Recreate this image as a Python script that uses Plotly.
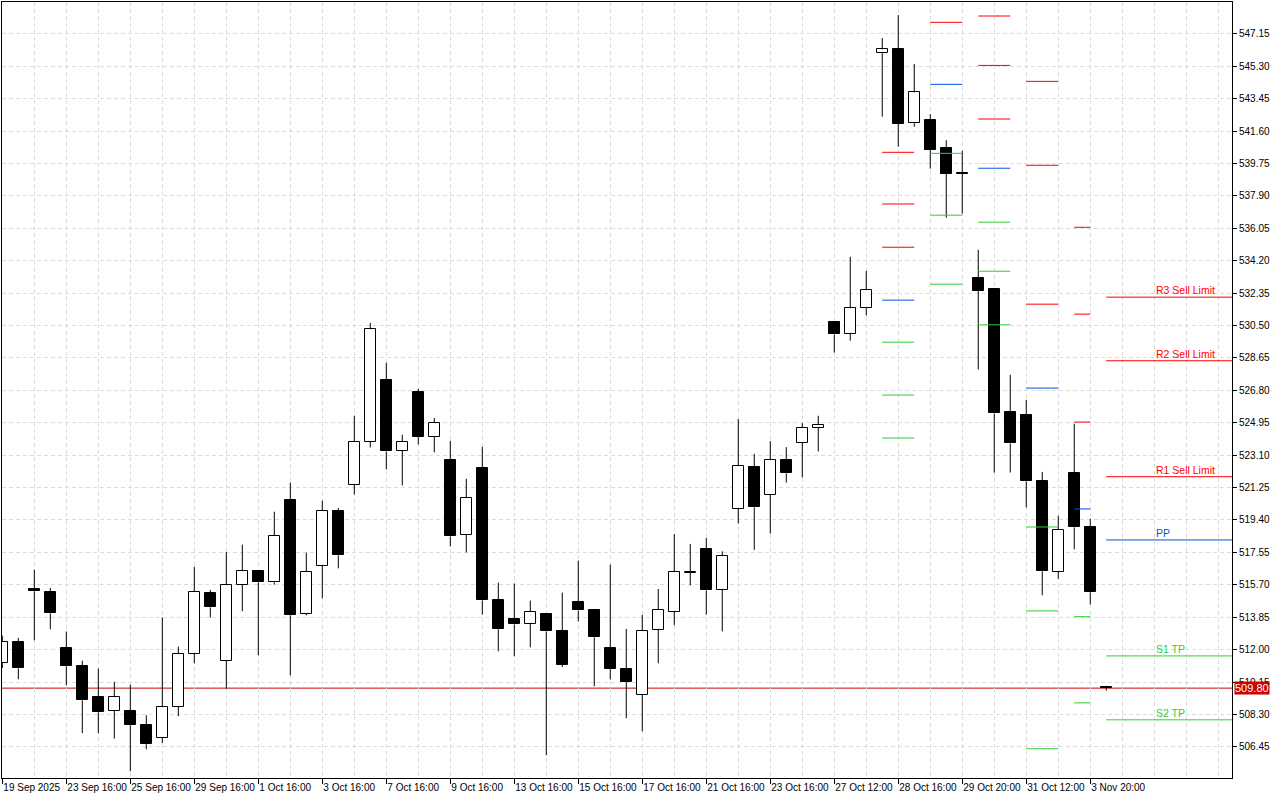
import plotly.graph_objects as go

# ---- candle data (bar index, OHLC) ----
opens = [511.24, 512.44, 515.46, 515.29, 512.10, 511.07, 509.30, 508.50, 508.50, 507.70,
         506.96, 508.73, 511.76, 515.25, 511.36, 515.69, 516.49, 515.84, 520.56, 514.04,
         516.78, 519.93, 521.40, 523.85, 527.40, 523.34, 526.72, 524.13, 522.84, 518.54,
         522.38, 514.84, 513.75, 513.47, 514.04, 513.08, 514.74, 514.28, 512.11, 510.90,
         509.42, 513.12, 514.15, 516.40, 517.74, 515.41, 520.03, 522.42, 520.83, 522.82,
         523.79, 524.65, 530.71, 530.01, 531.49, 546.04, 546.28, 542.05, 542.22, 540.62,
         539.21, 533.20, 532.59, 525.58, 525.41, 521.64, 516.43, 522.10, 519.02, 509.85]
highs = [512.80, 512.67, 516.56, 515.52, 513.03, 511.37, 510.92, 510.16, 510.00, 508.25,
         513.83, 512.17, 516.73, 515.41, 517.57, 517.99, 516.52, 519.87, 521.53, 517.53,
         520.50, 520.08, 525.35, 530.65, 528.37, 524.27, 526.89, 525.22, 523.92, 521.75,
         523.58, 515.82, 515.77, 514.80, 514.06, 515.25, 517.08, 514.32, 516.85, 513.18,
         513.98, 515.46, 518.60, 518.03, 518.37, 517.61, 525.16, 523.18, 523.90, 523.56,
         524.93, 525.35, 530.73, 534.42, 533.62, 546.91, 548.22, 545.43, 542.56, 541.08,
         540.47, 534.82, 532.62, 527.69, 526.26, 522.14, 519.64, 524.89, 519.47, 509.87]
lows = [510.95, 510.31, 512.53, 513.16, 509.96, 507.23, 507.23, 506.92, 505.06, 506.31,
        506.66, 508.20, 511.22, 513.83, 509.76, 514.19, 511.68, 515.71, 510.53, 513.96,
        514.93, 516.64, 520.86, 523.54, 522.29, 521.37, 523.71, 523.26, 517.89, 517.55,
        514.00, 511.90, 511.62, 512.13, 505.97, 511.01, 513.61, 509.91, 510.29, 508.08,
        507.34, 511.22, 513.39, 515.67, 514.00, 513.04, 519.20, 517.70, 518.63, 521.54,
        521.83, 523.31, 528.96, 529.64, 531.07, 542.42, 540.71, 541.85, 539.46, 536.66,
        536.89, 527.99, 522.11, 522.11, 520.12, 515.10, 516.05, 517.72, 514.58, 509.66]
closes = [512.44, 510.93, 515.33, 514.07, 511.05, 509.11, 508.42, 509.30, 507.68, 506.60,
          508.73, 511.76, 515.29, 514.41, 515.69, 516.49, 515.84, 518.49, 513.96, 516.43,
          519.93, 517.38, 523.85, 530.29, 523.31, 523.85, 524.13, 524.93, 518.46, 520.65,
          514.81, 513.16, 513.44, 514.15, 513.04, 511.14, 514.24, 512.70, 510.88, 510.14,
          513.07, 514.27, 516.43, 516.45, 515.38, 517.35, 522.48, 520.12, 522.82, 522.06,
          524.65, 524.82, 529.99, 531.49, 532.52, 546.27, 542.02, 543.81, 540.54, 539.17,
          539.17, 532.50, 525.48, 523.77, 521.60, 516.47, 518.83, 518.98, 515.27, 509.80]
bars = list(range(len(opens)))

# ---- x-axis labels (every 4th bar) ----
tick_bars = [0, 4, 8, 12, 16, 20, 24, 28, 32, 36, 40, 44, 48, 52, 56, 60, 64, 68]
tick_labels = ["19 Sep 2025", "23 Sep 16:00", "25 Sep 16:00", "29 Sep 16:00", "1 Oct 16:00",
               "3 Oct 16:00", "7 Oct 16:00", "9 Oct 16:00", "13 Oct 16:00", "15 Oct 16:00",
               "17 Oct 16:00", "21 Oct 16:00", "23 Oct 16:00", "27 Oct 12:00", "28 Oct 16:00",
               "29 Oct 20:00", "31 Oct 12:00", "3 Nov 20:00"]

# ---- y-axis ticks ----
price_ticks = [506.45, 508.30, 510.15, 512.00, 513.85, 515.70, 517.55, 519.40, 521.25, 523.10,
               524.95, 526.80, 528.65, 530.50, 532.35, 534.20, 536.05, 537.90, 539.75, 541.60,
               543.45, 545.30, 547.15]

# ---- daily pivot levels (segment start bar, end bar) ----
seg_start = [55, 58, 61, 64, 67]
seg_end = [57, 60, 63, 66, 68]
piv_R3 = [540.39, 555.29, 548.17, 544.44, 536.11]
piv_R2 = [537.44, 551.75, 545.35, 539.65, 531.15]
piv_R1 = [534.97, 547.81, 542.29, 531.72, 524.99]
piv_PP = [531.95, 544.27, 539.48, 526.93, 520.03]
piv_S1 = [529.55, 540.33, 536.40, 519.00, 513.88]
piv_S2 = [526.53, 536.80, 533.60, 514.21, 508.96]
piv_S3 = [524.08, 532.86, 530.54, 506.34, 502.77]

# ---- current levels ----
cur_names = ["R3 Sell Limit", "R2 Sell Limit", "R1 Sell Limit", "PP", "S1 TP", "S2 TP"]
cur_levels = [532.12, 528.49, 521.87, 518.26, 511.64, 507.99]
cur_start = 69
cur_end = 80
label_bar = 72
last_price = 509.80

RED = "#FF0000"
BLUE = "#0055DD"
GREEN = "#32CD32"
cur_colors = [RED, RED, RED, BLUE, GREEN, GREEN]

fig = go.Figure()

# wicks (split so they do not cross hollow bodies)
wx, wy = [], []
for i in bars:
    top = max(opens[i], closes[i])
    bot = min(opens[i], closes[i])
    if highs[i] > top:
        wx += [i, i, None]
        wy += [highs[i], top, None]
    if lows[i] < bot:
        wx += [i, i, None]
        wy += [bot, lows[i], None]
fig.add_trace(go.Scatter(x=wx, y=wy, mode="lines", line=dict(color="black", width=1),
                         hoverinfo="skip", showlegend=False))

# bodies
body_base = [min(o, c) for o, c in zip(opens, closes)]
body_h = [max(abs(c - o), 0.02) for o, c in zip(opens, closes)]
body_col = ["white" if c > o else "black" for o, c in zip(opens, closes)]
fig.add_trace(go.Bar(x=bars, y=body_h, base=body_base, width=0.66,
                     marker=dict(color=body_col, line=dict(color="black", width=1)),
                     hoverinfo="skip", showlegend=False))

# pivot segments
def seg_trace(levels, color):
    xs, ys = [], []
    for s, e, v in zip(seg_start, seg_end, levels):
        xs += [s, e, None]
        ys += [v, v, None]
    return go.Scatter(x=xs, y=ys, mode="lines", line=dict(color=color, width=1),
                      hoverinfo="skip", showlegend=False)

for lv, col in [(piv_R3, RED), (piv_R2, RED), (piv_R1, RED), (piv_PP, BLUE),
                (piv_S1, GREEN), (piv_S2, GREEN), (piv_S3, GREEN)]:
    fig.add_trace(seg_trace(lv, col))

# current levels + labels
for name, lv, col in zip(cur_names, cur_levels, cur_colors):
    fig.add_trace(go.Scatter(x=[cur_start, cur_end], y=[lv, lv], mode="lines",
                             line=dict(color=col, width=1), hoverinfo="skip", showlegend=False))
    fig.add_annotation(x=label_bar, y=lv, xref="x", yref="y", text=name, showarrow=False,
                       xanchor="left", yanchor="bottom", yshift=-1,
                       font=dict(family="Liberation Sans, Arial", size=10.5, color=col))

# last price line and label
fig.add_shape(type="line", xref="paper", x0=0, x1=1, yref="y", y0=last_price, y1=last_price,
              line=dict(color="#CC0000", width=1), layer="between")
fig.add_annotation(xref="paper", x=1, y=last_price, yref="y", text=f"{last_price:.2f}",
                   showarrow=False, xanchor="left", xshift=2, bgcolor="#CC0000",
                   borderpad=0, font=dict(family="Liberation Sans, Arial", size=11, color="white"))

grid = dict(gridcolor="#DCDCDC", griddash="4px,3px", gridwidth=1)

fig.update_layout(
    width=1280, height=800,
    margin=dict(l=2, r=48, t=2, b=22, autoexpand=False),
    paper_bgcolor="white", plot_bgcolor="white",
    font=dict(family="Liberation Sans, Arial", size=10, color="black"),
    showlegend=False, bargap=0,
    xaxis=dict(range=[-0.02, 76.86], tickmode="array", tickvals=tick_bars, ticktext=tick_labels,
               ticks="outside", ticklen=5, tickcolor="black", ticklabelposition="outside right",
               tickangle=0, automargin=False,
               showline=True, linecolor="black", linewidth=1, mirror=True, zeroline=False,
               showgrid=True, minor=dict(tickmode="linear", tick0=0, dtick=2, showgrid=True,
                                         ticks="", **grid),
               fixedrange=True, **grid),
    yaxis=dict(range=[504.67, 548.97], side="right", tickmode="array", tickvals=price_ticks,
               ticktext=[f"{v:.2f}" for v in price_ticks], ticks="outside", ticklen=4,
               tickcolor="black", showline=True, linecolor="black", linewidth=1, mirror=True,
               automargin=False,
               zeroline=False, showgrid=True, fixedrange=True, **grid),
)

fig.write_html("out.html", config={"displayModeBar": False},
               post_script="document.body.style.margin='0';document.body.style.padding='0';")
